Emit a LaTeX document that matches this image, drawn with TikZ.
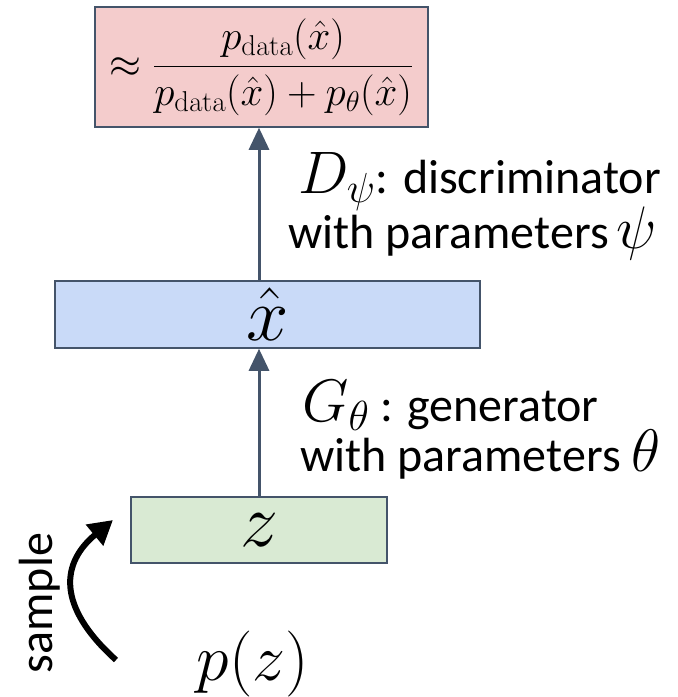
\RequirePackage{fix-cm}
\documentclass[tikz,border=0pt]{standalone}
\usepackage{amsmath}
\usepackage[no-math]{fontspec}
\setmainfont{Carlito}
\usetikzlibrary{arrows.meta, positioning, calc}
\definecolor{cBorder}{RGB}{68,84,106}
\definecolor{cRed}{RGB}{244,204,204}
\definecolor{cBlue}{RGB}{201,218,248}
\definecolor{cGreen}{RGB}{217,234,211}
\tikzset{
	layer/.style   ={rectangle, draw=cBorder, line width=1.5pt, inner sep=0pt, align=center},
	sig/.style     ={draw=cBorder, line width=3pt, -{Triangle[length=22pt, width=20pt]}},
	lbl/.style     ={font=\fontsize{48}{56}\selectfont, inner sep=0pt, anchor=base west},
	bigmath/.style ={font=\fontsize{76}{80}\selectfont},
	sampleflow/.style={line width=6pt, -{Triangle[length=24pt, width=26pt]}},
}
\newcommand{\symb}[1]{{\fontsize{60}{64}\selectfont$#1$}}

\begin{document}
\begin{tikzpicture}[x=1pt, y=-1pt]
	\useasboundingbox (0,0) rectangle (678,697);
	% the three layers
	\node[layer, fill=cRed, minimum width=333pt, minimum height=120pt, font=\fontsize{41}{48}\selectfont] (ratio) at (261.5,67)
		{$\approx\dfrac{p_{\mathrm{data}}(\hat{x})}{p_{\mathrm{data}}(\hat{x})+p_\theta(\hat{x})}$};
	\node[layer, fill=cBlue, minimum width=425pt, minimum height=67pt, bigmath] (xhat) at (267.5,314.5) {$\hat{x}$};
	\node[layer, fill=cGreen, minimum width=256pt, minimum height=66pt, bigmath] (zbox) at (259,530) {$z$};
	% arrows
	\draw[sig] (zbox.north) -- (zbox.north |- xhat.south);
	\draw[sig] (zbox.north |- xhat.north) -- (zbox.north |- ratio.south);
	% labels
	\node[lbl] (dname) at (298,193) {\symb{D_\psi}: discriminator};
	\node[lbl] (dpar) at (288,248) {with parameters\,\symb{\psi}};
	\node[lbl] (gname) at (302,421) {\symb{G_\theta} : generator};
	\node[lbl] (gpar) at (300,471) {with parameters \symb{\theta}};
	% sampling
	\node[font=\fontsize{66}{70}\selectfont] (pz) at (253,664) {$p(z)$};
	\node[lbl, anchor=center, rotate=90] (sample) at (40,603) {sample};
	\coordinate (tail) at (116,660);
	\coordinate (tip) at (113,520);
	\draw[sampleflow] (tail) .. controls (55,605) and (62,562) .. (tip);
\end{tikzpicture}
\end{document}
